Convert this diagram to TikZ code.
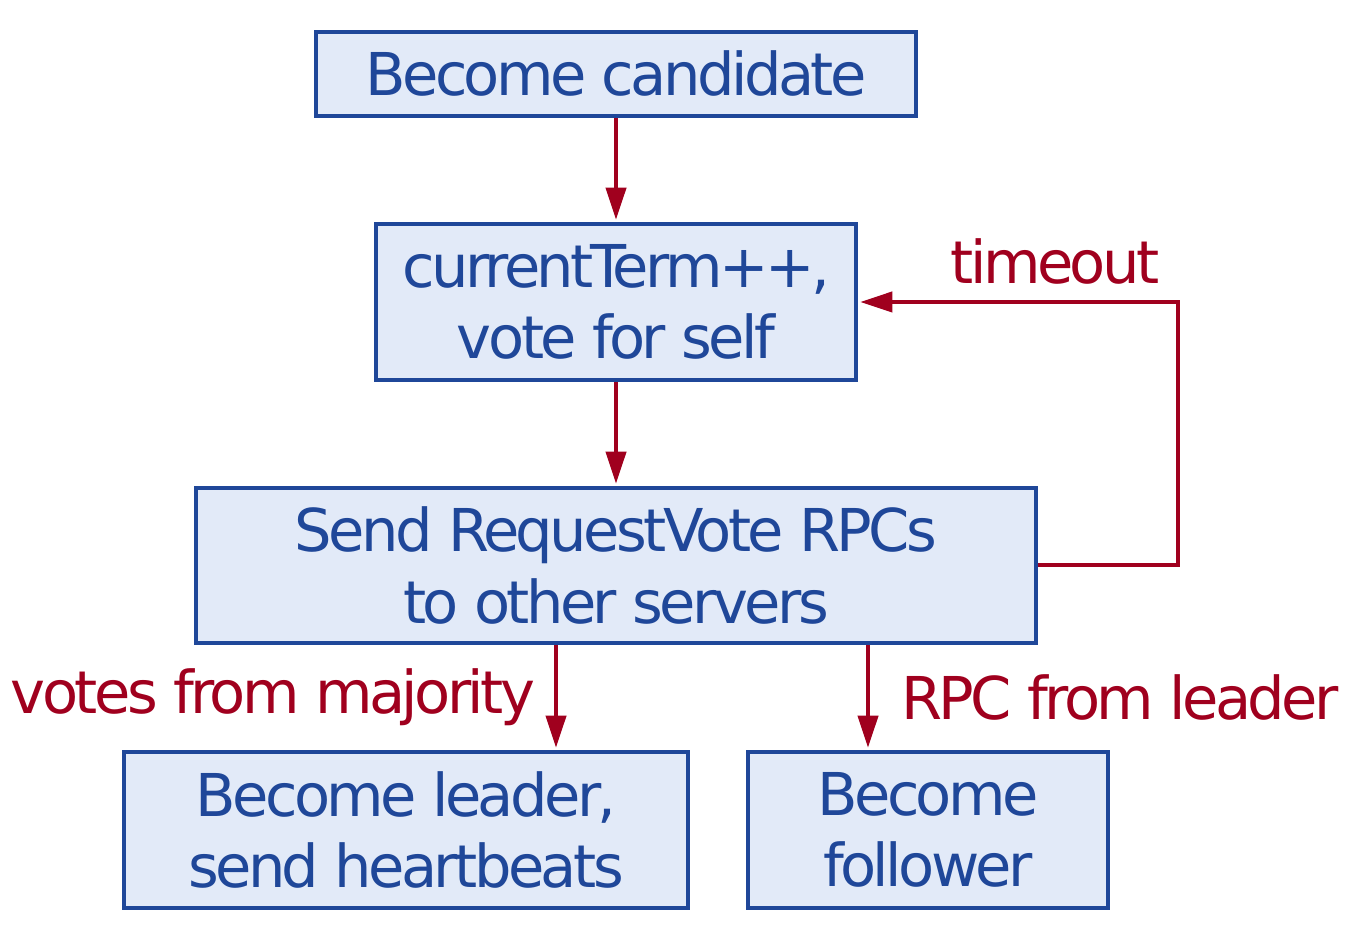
\documentclass[tikz,border=0pt]{standalone}
\usepackage{fontspec}
\setmainfont[LetterSpace=-6]{DejaVu Sans}
\usetikzlibrary{arrows.meta,calc,positioning}
\definecolor{boxblue}{HTML}{1F4799}
\definecolor{boxfill}{HTML}{E2EAF8}
\definecolor{arrred}{HTML}{A0001E}

\tikzset{
  stepbox/.style={draw=boxblue, fill=boxfill, line width=0.045cm, text=boxblue,
    align=center, inner sep=0pt},
  arr/.style={draw=arrred, line width=0.04cm,
    -{Triangle[length=0.32cm, width=0.2cm]}, shorten >=0.02cm},
  lbl/.style={text=arrred, inner sep=0pt}
}

\begin{document}
\begin{tikzpicture}[font=\fontsize{16.8}{20.4}\selectfont]
\useasboundingbox (0,0) rectangle (13.6,-9.25);

% --- stati ---
\node[stepbox, minimum width=6.00cm, minimum height=0.84cm] (cand) at (6.16,-0.74) {Become candidate};
\node[stepbox, minimum width=4.80cm, minimum height=1.56cm] (term) at (6.16,-3.02) {currentTerm++,\\vote for self};
\node[stepbox, minimum width=8.40cm, minimum height=1.55cm] (send) at (6.16,-5.655) {Send RequestVote RPCs\\to other servers};
\node[stepbox, minimum width=5.64cm, minimum height=1.56cm] (lead) at (4.06,-8.30) {Become leader,\\send heartbeats};
\node[stepbox, minimum width=3.60cm, minimum height=1.56cm] (foll) at (9.28,-8.30) {Become\\follower};

% --- transizioni ---
\draw[arr] (cand) -- (term);
\draw[arr] (term) -- (send);
\draw[arr] ([xshift=-6mm]send.south) -- ([xshift=-6mm]send.south |- lead.north);
\draw[arr] ([xshift=25.2mm]send.south) -- ([xshift=25.2mm]send.south |- foll.north);
\draw[arr] (send.east) -- ++(1.40,0) |- (term.east);

% --- etichette ---
\node[lbl] (tout) at (10.55,-2.62) {timeout};
\node[lbl] (vmaj) at (2.73,-6.97) {votes from majority};
\node[lbl] (rpcl) at (11.20,-6.97) {RPC from leader};

\end{tikzpicture}
\end{document}
